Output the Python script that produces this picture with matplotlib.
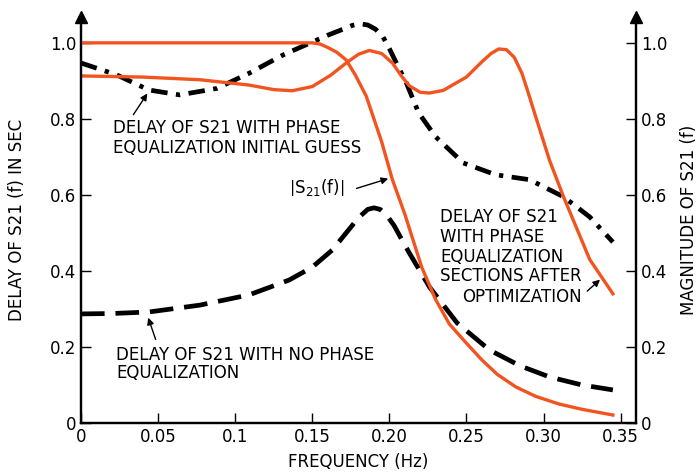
import matplotlib.pyplot as plt

plt.rcParams['font.family'] = ['DejaVu Sans']

# frequency / value pairs
f_noeq = [0, 0.02, 0.044, 0.077, 0.109, 0.135, 0.15, 0.163, 0.172, 0.18, 0.186, 0.19, 0.194, 0.198,
          0.203, 0.208, 0.213, 0.226, 0.244, 0.265, 0.285, 0.304, 0.325, 0.345]
d_noeq = [0.287, 0.288, 0.292, 0.31, 0.337, 0.376, 0.41, 0.455, 0.5, 0.54, 0.562, 0.566, 0.562, 0.548,
          0.52, 0.483, 0.447, 0.358, 0.263, 0.192, 0.15, 0.121, 0.1, 0.087]

f_init = [0, 0.023, 0.044, 0.064, 0.088, 0.109, 0.131, 0.146, 0.16, 0.17, 0.176, 0.181, 0.186,
          0.191, 0.196, 0.2, 0.206, 0.211, 0.219, 0.23, 0.248, 0.269, 0.291, 0.313, 0.33, 0.345]
d_init = [0.947, 0.916, 0.876, 0.863, 0.88, 0.92, 0.968, 0.995, 1.02, 1.036, 1.046, 1.05, 1.047,
          1.036, 1.015, 0.985, 0.935, 0.895, 0.816, 0.753, 0.684, 0.653, 0.64, 0.595, 0.542, 0.476]

f_opt = [0, 0.04, 0.077, 0.109, 0.125, 0.137, 0.15, 0.162, 0.172, 0.18, 0.187, 0.195, 0.202,
         0.208, 0.213, 0.22, 0.226, 0.235, 0.25, 0.26, 0.266, 0.271, 0.276, 0.281, 0.286, 0.29,
         0.295, 0.304, 0.313, 0.33, 0.345]
d_opt = [0.913, 0.91, 0.903, 0.889, 0.877, 0.874, 0.885, 0.915, 0.947, 0.97, 0.98, 0.972, 0.947,
         0.912, 0.887, 0.87, 0.868, 0.875, 0.91, 0.95, 0.972, 0.984, 0.982, 0.962, 0.92, 0.87,
         0.805, 0.69, 0.595, 0.43, 0.34]

f_mag = [0, 0.15, 0.155, 0.16, 0.166, 0.172, 0.178, 0.185, 0.19, 0.195, 0.202, 0.21, 0.221,
         0.23, 0.239, 0.25, 0.26, 0.27, 0.282, 0.295, 0.31, 0.325, 0.345]
mag = [1.0, 1.0, 0.997, 0.988, 0.975, 0.955, 0.915, 0.86, 0.8, 0.74, 0.64, 0.55, 0.41,
       0.325, 0.26, 0.21, 0.166, 0.128, 0.095, 0.07, 0.05, 0.036, 0.021]

xticks = [0, 0.05, 0.1, 0.15, 0.20, 0.25, 0.30, 0.35]
xticklabels = ['0', '0.05', '0.1', '0.15', '0.20', '0.25', '0.30', '0.35']
yticks = [0, 0.2, 0.4, 0.6, 0.8, 1.0]
yticklabels = ['0', '0.2', '0.4', '0.6', '0.8', '1.0']

orange = '#f2541f'
fs = 12

fig = plt.figure(figsize=(7, 4.72), dpi=100)
ax = fig.add_axes([81 / 700, 49 / 472, 555 / 700, 406 / 472])
ax.set_xlim(0, 0.36)
ax.set_ylim(0, 1.068)

ax.plot(f_noeq, d_noeq, color='black', lw=3.4, dashes=(5, 2.3))
ax.plot(f_init, d_init, color='black', lw=3.4, dashes=(3.5, 1.8, 0.9, 1.8))
ax.plot(f_opt, d_opt, color=orange, lw=2.4)

ax2 = ax.twinx()
ax2.set_ylim(0, 1.068)
ax2.plot(f_mag, mag, color=orange, lw=2.4)

for a in (ax, ax2):
    a.spines['top'].set_visible(False)
    a.spines['left'].set_linewidth(1.6)
    a.spines['right'].set_linewidth(1.6)
    a.spines['bottom'].set_linewidth(1.6)

ax.set_xticks(xticks)
ax.set_xticklabels(xticklabels, fontsize=fs)
ax.set_yticks(yticks)
ax.set_yticklabels(yticklabels, fontsize=fs)
ax2.set_yticks(yticks)
ax2.set_yticklabels(yticklabels, fontsize=fs)
ax.tick_params(direction='in', length=7, width=1)
ax2.tick_params(direction='in', length=7, width=1)

# arrow heads on the vertical axes
ax.plot(0, 1, '^k', ms=8, transform=ax.transAxes, clip_on=False)
ax.plot(1, 1, '^k', ms=8, transform=ax.transAxes, clip_on=False)

ax.set_xlabel('FREQUENCY (Hz)', fontsize=fs, labelpad=5)
ax.set_ylabel('DELAY OF S21 (f) IN SEC', fontsize=fs, labelpad=17)
ax2.set_ylabel('MAGNITUDE OF S21 (f)', fontsize=fs, labelpad=9)

arr = dict(arrowstyle='-|>', color='black', lw=1, mutation_scale=10)
ax.text(0.021, 0.75, 'DELAY OF S21 WITH PHASE\nEQUALIZATION INITIAL GUESS', fontsize=fs,
        va='center', linespacing=1.15)
ax.annotate('', xy=(0.044, 0.873), xytext=(0.033, 0.805), arrowprops=arr)
ax.text(0.135, 0.62, r'$\left|\mathregular{S_{21}(f)}\right|$', fontsize=fs, va='center')
ax.annotate('', xy=(0.201, 0.645), xytext=(0.177, 0.615), arrowprops=arr)
ax.text(0.233, 0.565, 'DELAY OF S21\nWITH PHASE\nEQUALIZATION\nSECTIONS AFTER',
        fontsize=fs, va='top', linespacing=1.12)
ax.text(0.325, 0.332, 'OPTIMIZATION', fontsize=fs, va='center', ha='right')
ax.annotate('', xy=(0.338, 0.382), xytext=(0.327, 0.342), arrowprops=arr)
ax.text(0.023, 0.155, 'DELAY OF S21 WITH NO PHASE\nEQUALIZATION', fontsize=fs,
        va='center', linespacing=1.05)
ax.annotate('', xy=(0.043, 0.284), xytext=(0.049, 0.213), arrowprops=arr)

fig.savefig('out.png', dpi=100)
